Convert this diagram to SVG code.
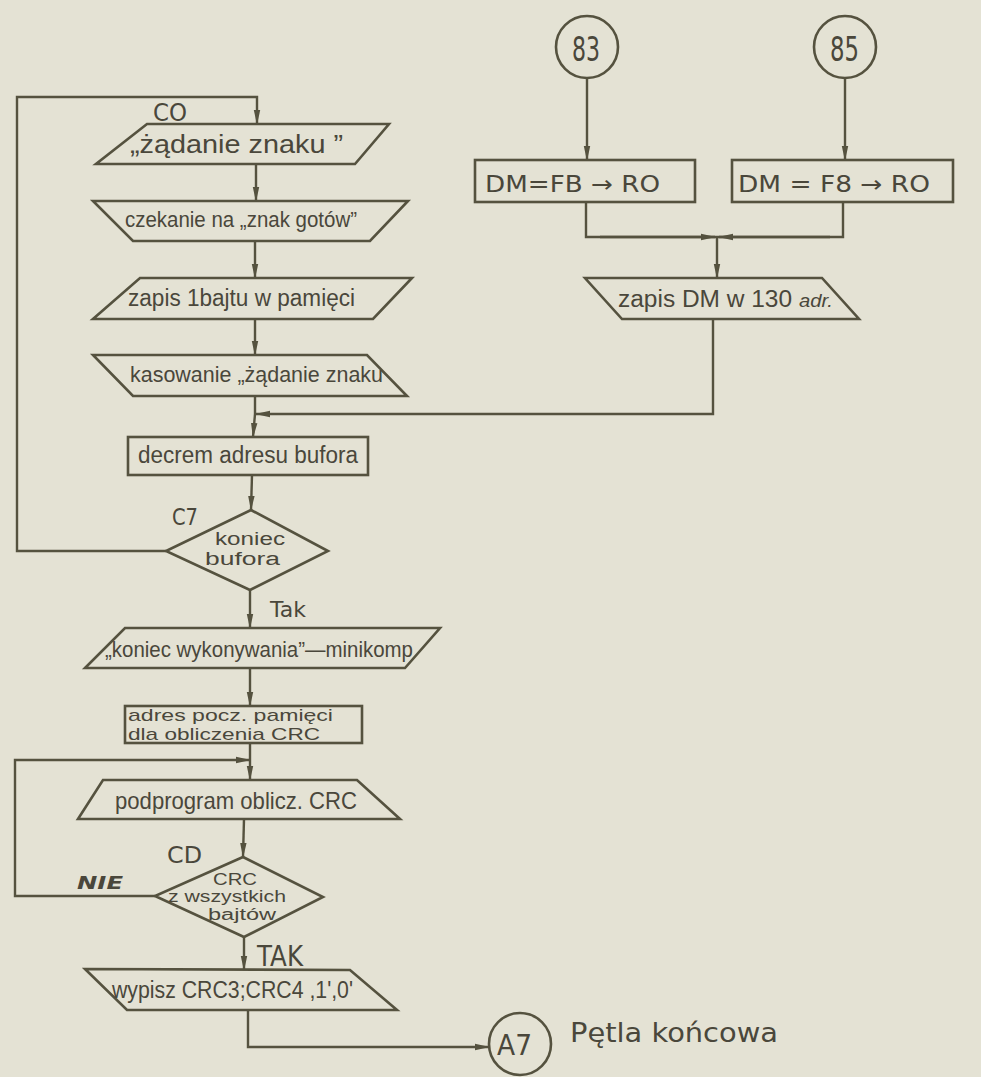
<svg xmlns="http://www.w3.org/2000/svg" width="981" height="1077" viewBox="0 0 981 1077">
  <defs>
    <marker id="ah" markerWidth="15" markerHeight="8" refX="14" refY="4" orient="auto" markerUnits="userSpaceOnUse">
      <path d="M0,0.8 L15,4 L0,7.2 Z" fill="#55523f"/>
    </marker>
  </defs>
  <style>
    .bg { fill: #e4e2d4; }
    .shape { fill: none; stroke: #55523f; stroke-width: 2.6; stroke-linejoin: miter; }
    .line { fill: none; stroke: #55523f; stroke-width: 2.4; }
    .arr { fill: none; stroke: #55523f; stroke-width: 2.4; marker-end: url(#ah); }
    text { font-family: "Liberation Sans", "DejaVu Sans", sans-serif; fill: #4a473b; }
    .lbl { font-family: "DejaVu Sans", "Liberation Sans", sans-serif; }
    .nie { font-weight: bold; font-style: italic; }
  </style>

  <rect class="bg" x="0" y="0" width="981" height="1077"/>

  <!-- connectors -->
  <g id="connectors">
    <!-- outer loop back to C0 -->
    <path class="arr" d="M166,551 L17,551 L17,97 L257,97 L257,124"/>
    <line class="arr" x1="256" y1="164" x2="256" y2="201"/>
    <line class="arr" x1="255" y1="241" x2="255" y2="278"/>
    <line class="arr" x1="255" y1="319" x2="255" y2="355"/>
    <line class="line" x1="255" y1="396" x2="255" y2="414"/>
    <line class="arr" x1="255" y1="414" x2="253" y2="437"/>
    <line class="arr" x1="252" y1="475" x2="251" y2="510"/>
    <line class="arr" x1="250" y1="590" x2="250" y2="628"/>
    <line class="arr" x1="250" y1="668" x2="250" y2="706"/>
    <line class="line" x1="250" y1="743" x2="250" y2="760"/>
    <line class="arr" x1="250" y1="760" x2="250" y2="780"/>
    <!-- inner loop back to CRC subroutine -->
    <path class="arr" d="M155,896 L15,896 L15,760 L250,760"/>
    <line class="arr" x1="244" y1="819" x2="243" y2="857"/>
    <line class="arr" x1="244" y1="937" x2="244" y2="970"/>
    <path class="arr" d="M248,1010 L248,1047 L489,1047"/>

    <!-- entry points 83 and 85 -->
    <line class="arr" x1="587" y1="78" x2="587" y2="160"/>
    <line class="arr" x1="845" y1="78" x2="845" y2="160"/>
    <path class="line" d="M586,202 L586,237 L843,237 L843,202"/>
    <line class="arr" x1="600" y1="237" x2="715" y2="237"/>
    <line class="arr" x1="830" y1="237" x2="719" y2="237"/>
    <line class="arr" x1="717" y1="237" x2="717" y2="278"/>
    <path class="arr" d="M713,319 L713,414 L256,414"/>
  </g>

  <!-- C0: request character -->
  <g id="n-zadanie">
    <polygon class="shape" points="147,124 389,124 355,164 96,164"/>
    <text x="130" y="153" font-size="25" textLength="213" lengthAdjust="spacingAndGlyphs">„żądanie  znaku ”</text>
  </g>
  <text class="lbl" x="153" y="121" font-size="24" textLength="34" lengthAdjust="spacingAndGlyphs">CO</text>

  <g id="n-czekanie">
    <polygon class="shape" points="93,201 408,201 370,241 133,241"/>
    <text x="125" y="227" font-size="22" textLength="232" lengthAdjust="spacingAndGlyphs">czekanie na „znak gotów”</text>
  </g>

  <g id="n-zapis">
    <polygon class="shape" points="140,278 412,278 373,319 93,319"/>
    <text x="128" y="306" font-size="23" textLength="227" lengthAdjust="spacingAndGlyphs">zapis 1bajtu w pamięci</text>
  </g>

  <g id="n-kasowanie">
    <polygon class="shape" points="93,355 367,355 407,396 133,396"/>
    <text x="130" y="382" font-size="22" textLength="253" lengthAdjust="spacingAndGlyphs">kasowanie „żądanie znaku</text>
  </g>

  <g id="n-decrem">
    <rect class="shape" x="128" y="437" width="240" height="38"/>
    <text x="138" y="463" font-size="23" textLength="220" lengthAdjust="spacingAndGlyphs">decrem adresu bufora</text>
  </g>

  <!-- C7: end of buffer? -->
  <g id="n-koniec-bufora">
    <polygon class="shape" points="251,510 328,551 250,590 166,551"/>
    <text x="215" y="545" font-size="18" textLength="70" lengthAdjust="spacingAndGlyphs">koniec</text>
    <text x="205" y="565" font-size="18" textLength="75" lengthAdjust="spacingAndGlyphs">bufora</text>
  </g>
  <text class="lbl" x="172" y="525" font-size="23" textLength="26" lengthAdjust="spacingAndGlyphs">C7</text>
  <text class="lbl" x="270" y="617" font-size="21" textLength="36" lengthAdjust="spacingAndGlyphs">Tak</text>

  <g id="n-koniec-wykonywania">
    <polygon class="shape" points="125,628 440,628 405,668 85,668"/>
    <text x="105" y="657" font-size="22" textLength="308" lengthAdjust="spacingAndGlyphs">„koniec wykonywania”—minikomp</text>
  </g>

  <g id="n-adres">
    <rect class="shape" x="125" y="706" width="237" height="37"/>
    <text x="128" y="721" font-size="17" textLength="205" lengthAdjust="spacingAndGlyphs">adres pocz. pamięci</text>
    <text x="128" y="740" font-size="17" textLength="192" lengthAdjust="spacingAndGlyphs">dla obliczenia CRC</text>
  </g>

  <g id="n-podprogram">
    <polygon class="shape" points="103,780 357,780 400,819 78,819"/>
    <text x="115" y="809" font-size="24" textLength="242" lengthAdjust="spacingAndGlyphs">podprogram oblicz. CRC</text>
  </g>

  <!-- CD: CRC of all bytes? -->
  <g id="n-crc-wszystkich">
    <polygon class="shape" points="243,857 323,897 244,937 155,896"/>
    <text x="213" y="885" font-size="16" textLength="44" lengthAdjust="spacingAndGlyphs">CRC</text>
    <text x="168" y="902" font-size="16" textLength="118" lengthAdjust="spacingAndGlyphs">z wszystkich</text>
    <text x="208" y="920" font-size="16" textLength="68" lengthAdjust="spacingAndGlyphs">bajtów</text>
  </g>
  <text class="lbl" x="167" y="863" font-size="23" textLength="35" lengthAdjust="spacingAndGlyphs">CD</text>
  <text class="lbl nie" x="77" y="889" font-size="18" textLength="46" lengthAdjust="spacingAndGlyphs">NIE</text>
  <text class="lbl" x="257" y="966" font-size="28" textLength="46" lengthAdjust="spacingAndGlyphs">TAK</text>

  <g id="n-wypisz">
    <polygon class="shape" points="85,969 350,970 397,1010 127,1010"/>
    <text x="112" y="998" font-size="23" textLength="241" lengthAdjust="spacingAndGlyphs">wypisz CRC3;CRC4 ,1',0'</text>
  </g>

  <g id="n-a7">
    <circle class="shape" cx="520" cy="1044" r="31"/>
    <text class="lbl" x="497" y="1055" font-size="29" textLength="35" lengthAdjust="spacingAndGlyphs">A7</text>
  </g>
  <text class="lbl" x="570" y="1042" font-size="27" textLength="208" lengthAdjust="spacingAndGlyphs">Pętla końcowa</text>

  <!-- entry 83 -->
  <g id="n-83">
    <circle class="shape" cx="587" cy="47" r="31"/>
    <text class="lbl" x="572" y="61" font-size="33" textLength="28" lengthAdjust="spacingAndGlyphs">83</text>
  </g>
  <!-- entry 85 -->
  <g id="n-85">
    <circle class="shape" cx="845" cy="47" r="31"/>
    <text class="lbl" x="830" y="61" font-size="33" textLength="29" lengthAdjust="spacingAndGlyphs">85</text>
  </g>

  <g id="n-dm-fb">
    <rect class="shape" x="475" y="160" width="220" height="42"/>
    <text class="lbl" x="485" y="192" font-size="23" textLength="175" lengthAdjust="spacingAndGlyphs">DM=FB → RO</text>
  </g>

  <g id="n-dm-f8">
    <rect class="shape" x="732" y="160" width="221" height="42"/>
    <text class="lbl" x="738" y="192" font-size="23" textLength="192" lengthAdjust="spacingAndGlyphs">DM = F8 → RO</text>
  </g>

  <g id="n-zapis-dm">
    <polygon class="shape" points="585,278 822,278 859,319 622,319"/>
    <text x="618" y="307" font-size="23" textLength="215" lengthAdjust="spacingAndGlyphs">zapis DM w 130 <tspan font-style="italic" font-size="19">adr.</tspan></text>
  </g>
</svg>
